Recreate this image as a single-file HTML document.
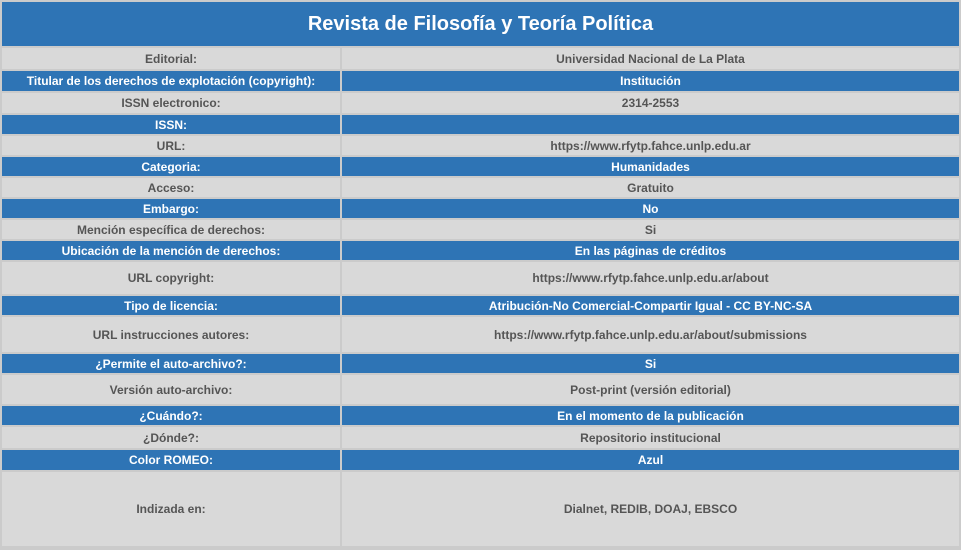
<!DOCTYPE html>
<html><head><meta charset="utf-8"><style>
body{margin:0;width:961px;height:550px;background:#cbcbcb;font-family:"Liberation Sans",Arial,sans-serif;overflow:hidden;position:relative}
.h{position:absolute;left:2px;top:2px;width:957px;height:44px;background:#2e74b5;color:#fff;font-weight:bold;font-size:20px;display:flex;align-items:center;justify-content:center}
.c{position:absolute;display:flex;align-items:center;justify-content:center;font-size:12px;font-weight:bold;color:#555;background:#d9d9d9}
.b{background:#2e74b5;color:#fff}
</style></head><body>
<div class="h">Revista de Filosofía y Teoría Política</div>
<div id="t"></div>
<script>
const rows=[
["Editorial:","Universidad Nacional de La Plata",48,21,0],
["Titular de los derechos de explotación (copyright):","Institución",71,20,1],
["ISSN electronico:","2314-2553",93,20,0],
["ISSN:","",115,19,1],
["URL:","https://www.rfytp.fahce.unlp.edu.ar",136,19,0],
["Categoria:","Humanidades",157,19,1],
["Acceso:","Gratuito",178,19,0],
["Embargo:","No",199,19,1],
["Mención específica de derechos:","Si",220,19,0],
["Ubicación de la mención de derechos:","En las páginas de créditos",241,19,1],
["URL copyright:","https://www.rfytp.fahce.unlp.edu.ar/about",262,32,0],
["Tipo de licencia:","Atribución-No Comercial-Compartir Igual - CC BY-NC-SA",296,19,1],
["URL instrucciones autores:","https://www.rfytp.fahce.unlp.edu.ar/about/submissions",317,35,0],
["¿Permite el auto-archivo?:","Si",354,19,1],
["Versión auto-archivo:","Post-print (versión editorial)",375,29,0],
["¿Cuándo?:","En el momento de la publicación",406,19,1],
["¿Dónde?:","Repositorio institucional",427,21,0],
["Color ROMEO:","Azul",450,20,1],
["Indizada en:","Dialnet, REDIB, DOAJ, EBSCO",472,74,0]];
const t=document.getElementById('t');
rows.forEach(r=>{
 [[2,338,r[0]],[342,617,r[1]]].forEach((c,i)=>{
  const d=document.createElement('div');
  d.className='c'+(r[4]?' b':'');
  d.style.cssText=`left:${c[0]}px;width:${c[1]}px;top:${r[2]}px;height:${r[3]}px`;
  d.textContent=c[2];
  
  
  t.appendChild(d);
 });
});
</script>
</body></html>
